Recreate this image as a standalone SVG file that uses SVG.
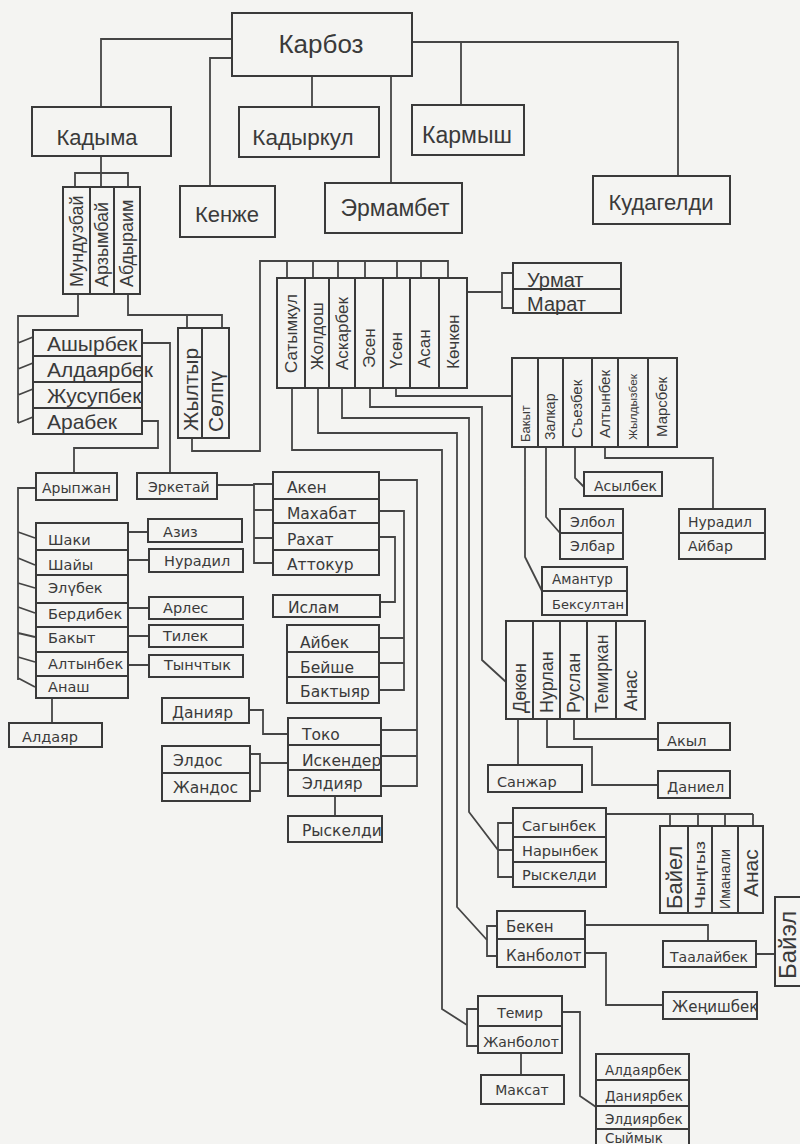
<svg xmlns="http://www.w3.org/2000/svg" width="800" height="1144" viewBox="0 0 800 1144">
<style>
.b{fill:none;stroke:#3a3a3a;stroke-width:2}
.l{fill:none;stroke:#454545;stroke-width:1.8}
.a{font-family:"Liberation Sans",Arial,sans-serif;fill:#3a3a3a}
.d{font-family:"DejaVu Sans",Verdana,sans-serif;fill:#3a3a3a}
.m{text-anchor:middle}
</style>
<rect x="0" y="0" width="800" height="1144" fill="#f4f4f2"/>
<g id="connectors" class="l">
<path d="M232,39H101V107M232,58H210V186M312,76V107M391,76V183M412,42H678V176M461,42V105"/>
<path d="M101,156V187M75,187V173H128V187"/>
<path d="M78,294V316H18V423M18,343L33,337M18,369L33,363M18,395L33,389M18,423L33,417"/>
<path d="M128,294V315H222V328M187,315V328"/>
<path d="M142,343H170V473M142,421H158V448H74V473"/>
<path d="M192,438V451H260V261H448V278M287,261V278M313,261V278M338,261V278M365,261V278M397,261V278M421,261V278"/>
<path d="M467,292H502M513,273H502V308H513"/>
<path d="M396,388V396H512"/>
<path d="M525,447V557L542,591M546,447V517L560,533M575,447V478L584,487M605,447V458H713V509"/>
<path d="M370,388V407H482V660L506,682"/>
<path d="M342,388V418H469V812L498,850"/>
<path d="M318,388V433H457V907L487,940"/>
<path d="M292,388V450H442V1009L467,1025"/>
<path d="M518,719V765M547,719V747H592V785H658M574,719V739H658"/>
<path d="M513,823H498V877H513M498,850H513"/>
<path d="M606,814H753M670,814V826M698,814V826M725,814V826M753,814V826"/>
<path d="M497,926H487V956H497M585,925H708V941M585,953H606V1005H663M756,954H775"/>
<path d="M478,1009H467V1046H478M521,1053V1075M562,1012H580V1096L596,1107"/>
<path d="M36,488H18V680M18,532L35,538M18,558L35,565M18,583L35,588M18,607L35,613M18,633L35,637M18,657L35,662M18,678L35,687"/>
<path d="M128,532H148M128,560H149M128,608H149M128,636H149M128,665H149M52,698V723"/>
<path d="M217,485H254M273,484H254V563H273M254,510H273M254,538H273"/>
<path d="M379,480H417V786H381M417,730H382M417,756H381"/>
<path d="M379,511H404V690H379M404,638H379M404,663H379"/>
<path d="M379,537H395V602H380"/>
<path d="M335,796V816M249,710H263V734H288M250,754H260V791H250M260,763H288"/>
</g>
<g id="karboz"><rect class="b" x="232" y="13" width="180" height="63"/><text class="a m" x="321" y="53" font-size="26">Карбоз</text></g>
<g id="kadyma"><rect class="b" x="32" y="107" width="139" height="49"/><text class="a m" x="97" y="145" font-size="22">Кадыма</text></g>
<g id="kadyrkul"><rect class="b" x="239" y="107" width="140" height="50"/><text class="a m" x="303" y="145" font-size="22.5">Кадыркул</text></g>
<g id="kenzhe"><rect class="b" x="180" y="186" width="95" height="51"/><text class="a m" x="227" y="222" font-size="22">Кенже</text></g>
<g id="ermambet"><rect class="b" x="325" y="183" width="137" height="50"/><text class="a m" x="395" y="216" font-size="23">Эрмамбет</text></g>
<g id="karmysh"><rect class="b" x="412" y="105" width="112" height="50"/><text class="a m" x="467" y="143" font-size="23">Кармыш</text></g>
<g id="kudageldi"><rect class="b" x="593" y="176" width="137" height="48"/><text class="a m" x="661" y="210" font-size="22">Кудагелди</text></g>

<g id="mundyzbai"><rect class="b" x="63" y="187" width="27" height="107"/><text class="a" transform="translate(83,287) rotate(-90)" font-size="18">Мундузбай</text></g>
<g id="arzymbai"><rect class="b" x="90" y="187" width="24" height="107"/><text class="a" transform="translate(108,287) rotate(-90)" font-size="18">Арзымбай</text></g>
<g id="abdyraim"><rect class="b" x="114" y="187" width="26" height="107"/><text class="a" transform="translate(133,287) rotate(-90)" font-size="18">Абдыраим</text></g>

<g id="ashyrbek"><rect class="b" x="33" y="330" width="109" height="26"/><text class="a" x="47" y="351" font-size="21">Ашырбек</text></g>
<g id="aldaiarbek"><rect class="b" x="33" y="356" width="109" height="26"/><text class="a" x="47" y="377" font-size="21">Алдаярбек</text></g>
<g id="zhusupbek"><rect class="b" x="33" y="382" width="109" height="26"/><text class="a" x="47" y="403" font-size="21">Жусупбек</text></g>
<g id="arabek"><rect class="b" x="33" y="408" width="109" height="26"/><text class="a" x="47" y="429" font-size="21">Арабек</text></g>

<g id="zhyltyr"><rect class="b" x="178" y="328" width="24" height="110"/><text class="a" transform="translate(198,431) rotate(-90)" font-size="21">Жылтыр</text></g>
<g id="solpu"><rect class="b" x="202" y="328" width="27" height="110"/><text class="a" transform="translate(223,432) rotate(-90)" font-size="21">Сөлпү</text></g>

<g id="satymkul"><rect class="b" x="277" y="278" width="28" height="110"/><text class="a" transform="translate(297,373) rotate(-90)" font-size="17">Сатымкул</text></g>
<g id="zholdosh"><rect class="b" x="305" y="278" width="24" height="110"/><text class="a" transform="translate(323,370) rotate(-90)" font-size="17">Жолдош</text></g>
<g id="askarbek"><rect class="b" x="329" y="278" width="26" height="110"/><text class="a" transform="translate(348,370) rotate(-90)" font-size="17">Аскарбек</text></g>
<g id="esen"><rect class="b" x="355" y="278" width="28" height="110"/><text class="a" transform="translate(375,368) rotate(-90)" font-size="17">Эсен</text></g>
<g id="usen"><rect class="b" x="383" y="278" width="27" height="110"/><text class="a" transform="translate(402,369) rotate(-90)" font-size="17">Үсөн</text></g>
<g id="asan"><rect class="b" x="410" y="278" width="29" height="110"/><text class="a" transform="translate(430,368) rotate(-90)" font-size="17">Асан</text></g>
<g id="kochkon"><rect class="b" x="439" y="278" width="28" height="110"/><text class="a" transform="translate(459,369) rotate(-90)" font-size="17">Көчкөн</text></g>

<g id="urmat"><rect class="b" x="513" y="263" width="108" height="26"/><text class="a" x="527" y="287" font-size="20">Урмат</text></g>
<g id="marat"><rect class="b" x="513" y="289" width="108" height="24"/><text class="a" x="527" y="311" font-size="20">Марат</text></g>

<g id="bakyt2"><rect class="b" x="512" y="358" width="26" height="89"/><text class="a" transform="translate(530,442) rotate(-90)" font-size="13">Бакыт</text></g>
<g id="zalkar"><rect class="b" x="538" y="358" width="25" height="89"/><text class="a" transform="translate(555,440) rotate(-90)" font-size="14">Залкар</text></g>
<g id="sezbek"><rect class="b" x="563" y="358" width="29" height="89"/><text class="a" transform="translate(582,438) rotate(-90)" font-size="15">Съезбек</text></g>
<g id="altynbek2"><rect class="b" x="592" y="358" width="26" height="89"/><text class="a" transform="translate(610,438) rotate(-90)" font-size="15">Алтынбек</text></g>
<g id="zhyldyzbek"><rect class="b" x="618" y="358" width="30" height="89"/><text class="a" transform="translate(637,440) rotate(-90)" font-size="11" textLength="66" lengthAdjust="spacingAndGlyphs">Жылдызбек</text></g>
<g id="marsbek"><rect class="b" x="648" y="358" width="29" height="89"/><text class="a" transform="translate(667,437) rotate(-90)" font-size="15">Марсбек</text></g>

<g id="asylbek"><rect class="b" x="584" y="472" width="78" height="24"/><text class="d" x="594" y="491" font-size="14">Асылбек</text></g>
<g id="elbol"><rect class="b" x="560" y="509" width="63" height="24"/><text class="d" x="570" y="527" font-size="14">Элбол</text></g>
<g id="elbar"><rect class="b" x="560" y="533" width="63" height="26"/><text class="d" x="570" y="551" font-size="14">Элбар</text></g>
<g id="nuradil2"><rect class="b" x="679" y="509" width="86" height="24"/><text class="d" x="688" y="527" font-size="14">Нурадил</text></g>
<g id="aibar"><rect class="b" x="679" y="533" width="86" height="26"/><text class="d" x="688" y="551" font-size="14">Айбар</text></g>
<g id="amantur"><rect class="b" x="542" y="567" width="85" height="24"/><text class="d" x="552" y="584" font-size="13.5">Амантур</text></g>
<g id="beksultan"><rect class="b" x="542" y="591" width="85" height="24"/><text class="d" x="552" y="609" font-size="13">Бексултан</text></g>

<g id="dokon"><rect class="b" x="506" y="621" width="27" height="98"/><text class="a" transform="translate(526,713) rotate(-90)" font-size="18">Дөкөн</text></g>
<g id="nurlan"><rect class="b" x="533" y="621" width="27" height="98"/><text class="a" transform="translate(553,713) rotate(-90)" font-size="18">Нурлан</text></g>
<g id="ruslan"><rect class="b" x="560" y="621" width="27" height="98"/><text class="a" transform="translate(580,713) rotate(-90)" font-size="18">Руслан</text></g>
<g id="temirkan"><rect class="b" x="587" y="621" width="29" height="98"/><text class="a" transform="translate(608,713) rotate(-90)" font-size="17.5">Темиркан</text></g>
<g id="anas1"><rect class="b" x="616" y="621" width="29" height="98"/><text class="a" transform="translate(637,711) rotate(-90)" font-size="18">Анас</text></g>

<g id="akyl"><rect class="b" x="658" y="723" width="72" height="27"/><text class="d" x="667" y="746" font-size="14.5">Акыл</text></g>
<g id="sanzhar"><rect class="b" x="488" y="765" width="94" height="27"/><text class="d" x="497" y="787" font-size="14.5">Санжар</text></g>
<g id="daniel"><rect class="b" x="658" y="771" width="72" height="27"/><text class="d" x="667" y="792" font-size="14.5">Даниел</text></g>

<g id="sagynbek"><rect class="b" x="513" y="808" width="93" height="29"/><text class="d" x="522" y="831" font-size="14.5">Сагынбек</text></g>
<g id="narynbek"><rect class="b" x="513" y="837" width="93" height="25"/><text class="d" x="522" y="856" font-size="14.5">Нарынбек</text></g>
<g id="ryskeldi2"><rect class="b" x="513" y="862" width="93" height="25"/><text class="d" x="522" y="880" font-size="14.5">Рыскелди</text></g>

<g id="baiel"><rect class="b" x="660" y="826" width="28" height="87"/><text class="a" transform="translate(682,909) rotate(-90)" font-size="22">Байел</text></g>
<g id="chyngyz"><rect class="b" x="688" y="826" width="24" height="87"/><text class="a" transform="translate(705,909) rotate(-90)" font-size="14" textLength="68" lengthAdjust="spacingAndGlyphs">Чыңгыз</text></g>
<g id="imanali"><rect class="b" x="712" y="826" width="26" height="87"/><text class="a" transform="translate(730,909) rotate(-90)" font-size="14" textLength="60" lengthAdjust="spacingAndGlyphs">Иманали</text></g>
<g id="anas2"><rect class="b" x="738" y="826" width="25" height="87"/><text class="a" transform="translate(758,897) rotate(-90)" font-size="21">Анас</text></g>

<g id="beken"><rect class="b" x="497" y="911" width="88" height="28"/><text class="d" x="506" y="932" font-size="15">Бекен</text></g>
<g id="kanbolot"><rect class="b" x="497" y="939" width="88" height="28"/><text class="d" x="506" y="961" font-size="15">Канболот</text></g>
<g id="taalaibek"><rect class="b" x="663" y="941" width="93" height="26"/><text class="d" x="670" y="962" font-size="14">Таалайбек</text></g>
<g id="baiel2"><rect class="b" x="775" y="897" width="30" height="89"/><text class="a" transform="translate(796,979) rotate(-90)" font-size="24">Байэл</text></g>
<g id="zhenishbek"><rect class="b" x="663" y="992" width="94" height="27"/><text class="d" x="672" y="1012" font-size="15">Жеңишбек</text></g>

<g id="temir"><rect class="b" x="478" y="996" width="84" height="30"/><text class="d m" x="520" y="1018" font-size="14">Темир</text></g>
<g id="zhanbolot"><rect class="b" x="478" y="1026" width="84" height="27"/><text class="d m" x="521" y="1047" font-size="14">Жанболот</text></g>
<g id="maksat"><rect class="b" x="481" y="1075" width="83" height="29"/><text class="d m" x="522" y="1095" font-size="14">Максат</text></g>

<g id="aldaiarbek2"><rect class="b" x="596" y="1054" width="93" height="26"/><text class="d" x="605" y="1075" font-size="13.5">Алдаярбек</text></g>
<g id="daniiarbek"><rect class="b" x="596" y="1080" width="93" height="26"/><text class="d" x="605" y="1101" font-size="13.5">Даниярбек</text></g>
<g id="eldiiarbek"><rect class="b" x="596" y="1106" width="93" height="23"/><text class="d" x="605" y="1124" font-size="13.5">Элдиярбек</text></g>
<g id="syimyk"><rect class="b" x="596" y="1129" width="93" height="22"/><text class="d" x="605" y="1143" font-size="13.5">Сыймык</text></g>

<g id="arypzhan"><rect class="b" x="36" y="473" width="81" height="27"/><text class="d" x="42" y="493" font-size="14">Арыпжан</text></g>
<g id="erketai"><rect class="b" x="137" y="473" width="80" height="26"/><text class="d" x="148" y="492" font-size="14">Эркетай</text></g>

<g id="shaki"><rect class="b" x="36" y="523" width="92" height="27"/><text class="d" x="48" y="545" font-size="14.5">Шаки</text></g>
<g id="shaiy"><rect class="b" x="36" y="550" width="92" height="25"/><text class="d" x="48" y="570" font-size="14.5">Шайы</text></g>
<g id="elubek"><rect class="b" x="36" y="575" width="92" height="28"/><text class="d" x="48" y="593" font-size="14.5">Элүбек</text></g>
<g id="berdibek"><rect class="b" x="36" y="603" width="92" height="24"/><text class="d" x="48" y="619" font-size="14.5">Бердибек</text></g>
<g id="bakyt1"><rect class="b" x="36" y="627" width="92" height="25"/><text class="d" x="48" y="643" font-size="14.5">Бакыт</text></g>
<g id="altynbek1"><rect class="b" x="36" y="652" width="92" height="24"/><text class="d" x="48" y="669" font-size="14.5">Алтынбек</text></g>
<g id="anash"><rect class="b" x="36" y="676" width="92" height="22"/><text class="d" x="48" y="692" font-size="14.5">Анаш</text></g>

<g id="aziz"><rect class="b" x="148" y="519" width="94" height="23"/><text class="d" x="163" y="537" font-size="14.5">Азиз</text></g>
<g id="nuradil1"><rect class="b" x="149" y="549" width="94" height="23"/><text class="d" x="164" y="566" font-size="14.5">Нурадил</text></g>
<g id="arles"><rect class="b" x="149" y="597" width="94" height="22"/><text class="d" x="163" y="613" font-size="14.5">Арлес</text></g>
<g id="tilek"><rect class="b" x="149" y="625" width="94" height="22"/><text class="d" x="163" y="641" font-size="14.5">Тилек</text></g>
<g id="tynchtyk"><rect class="b" x="149" y="655" width="94" height="22"/><text class="d" x="164" y="670" font-size="14.5">Тынчтык</text></g>
<g id="aldaiar"><rect class="b" x="9" y="723" width="93" height="24"/><text class="d" x="22" y="742" font-size="14.5">Алдаяр</text></g>

<g id="aken"><rect class="b" x="273" y="472" width="106" height="27"/><text class="d" x="287" y="493" font-size="15.5">Акен</text></g>
<g id="makhabat"><rect class="b" x="273" y="499" width="106" height="24"/><text class="d" x="287" y="519" font-size="15.5">Махабат</text></g>
<g id="rakhat"><rect class="b" x="273" y="523" width="106" height="27"/><text class="d" x="287" y="545" font-size="15.5">Рахат</text></g>
<g id="attokur"><rect class="b" x="273" y="550" width="106" height="25"/><text class="d" x="287" y="570" font-size="15.5">Аттокур</text></g>
<g id="islam"><rect class="b" x="273" y="595" width="107" height="22"/><text class="d" x="288" y="613" font-size="15.5">Ислам</text></g>

<g id="aibek"><rect class="b" x="287" y="625" width="92" height="27"/><text class="d" x="300" y="648" font-size="15.5">Айбек</text></g>
<g id="beishe"><rect class="b" x="287" y="652" width="92" height="25"/><text class="d" x="300" y="673" font-size="15.5">Бейше</text></g>
<g id="baktyiar"><rect class="b" x="287" y="677" width="92" height="26"/><text class="d" x="300" y="697" font-size="15.5">Бактыяр</text></g>

<g id="toko"><rect class="b" x="288" y="718" width="93" height="27"/><text class="d" x="302" y="740" font-size="15.5">Токо</text></g>
<g id="iskender"><rect class="b" x="288" y="745" width="93" height="25"/><text class="d" x="302" y="766" font-size="15.5">Искендер</text></g>
<g id="eldiiar"><rect class="b" x="288" y="770" width="93" height="26"/><text class="d" x="302" y="789" font-size="15.5">Элдияр</text></g>
<g id="ryskeldi1"><rect class="b" x="288" y="816" width="94" height="26"/><text class="d" x="302" y="836" font-size="15.5">Рыскелди</text></g>

<g id="daniiar"><rect class="b" x="162" y="698" width="87" height="25"/><text class="d" x="172" y="718" font-size="15.5">Данияр</text></g>
<g id="eldos"><rect class="b" x="162" y="746" width="88" height="27"/><text class="d" x="173" y="766" font-size="15.5">Элдос</text></g>
<g id="zhandos"><rect class="b" x="162" y="773" width="88" height="28"/><text class="d" x="173" y="793" font-size="15.5">Жандос</text></g>
</svg>
